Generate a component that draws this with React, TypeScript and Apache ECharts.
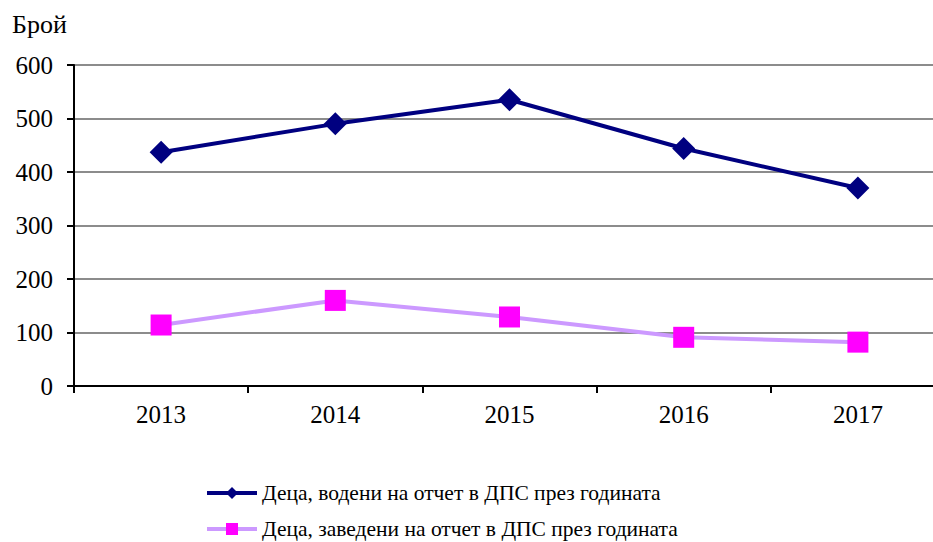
import React, { useEffect, useRef } from "react";
import * as echarts from "echarts";

const categories = ["2013", "2014", "2015", "2016", "2017"];
const seriesNames = [
  "Деца, водени на отчет в ДПС през годината",
  "Деца, заведени на отчет в ДПС през годината",
];
const ledValues = [437, 490, 535, 444, 370];
const enteredValues = [114, 160, 129, 91, 82];
const yTicks = { min: 0, max: 600, interval: 100 };
const yTitle = "Брой";

const FONT = '"Liberation Serif", "Times New Roman", serif';

const legendBase = {
  orient: "horizontal",
  itemWidth: 50,
  itemHeight: 15,
  itemGap: 8,
  lineStyle: { width: 4 },
  textStyle: { color: "#000", fontSize: 21.5, fontFamily: FONT },
};

export default function App() {
  const ref = useRef<HTMLDivElement>(null);
  useEffect(() => {
    if (!ref.current) return;
    const chart = echarts.init(ref.current, null, { renderer: "svg" });
    chart.setOption({
      animation: false,
      backgroundColor: "#ffffff",
      textStyle: { fontFamily: FONT },
      grid: {
        left: 74,
        top: 65,
        width: 871,
        height: 321,
        containLabel: false,
        outerBoundsMode: "none",
      },
      graphic: [
        {
          type: "text",
          left: 12,
          top: 11,
          style: { text: yTitle, font: `26px ${FONT}`, fill: "#000" },
        },
      ],
      xAxis: {
        type: "category",
        data: categories,
        boundaryGap: true,
        axisLine: { lineStyle: { color: "#000", width: 2 } },
        axisTick: { show: true, length: 7, lineStyle: { color: "#000", width: 2 } },
        axisLabel: { color: "#000", fontSize: 25, fontFamily: FONT, margin: 16 },
      },
      yAxis: {
        type: "value",
        min: yTicks.min,
        max: yTicks.max,
        interval: yTicks.interval,
        axisLine: { show: true, lineStyle: { color: "#000", width: 2 } },
        axisTick: { show: true, length: 7, lineStyle: { color: "#000", width: 2 } },
        axisLabel: { color: "#000", fontSize: 25, fontFamily: FONT, margin: 21 },
        splitLine: { show: true, lineStyle: { color: "#8c8c8c", width: 2 } },
      },
      legend: [
        { ...legendBase, left: 200, top: 477, data: [seriesNames[0]] },
        { ...legendBase, left: 200, top: 513, itemGap: 4, data: [seriesNames[1]] },
      ],
      series: [
        {
          name: seriesNames[0],
          type: "line",
          data: ledValues,
          symbol: "diamond",
          symbolSize: 23,
          lineStyle: { color: "#000080", width: 4 },
          itemStyle: { color: "#000080" },
        },
        {
          name: seriesNames[1],
          type: "line",
          data: enteredValues,
          symbol: "rect",
          symbolSize: 21,
          lineStyle: { color: "#CC99FF", width: 4 },
          itemStyle: { color: "#FF00FF" },
        },
      ],
    });
    return () => chart.dispose();
  }, []);
  return (
    <div
      ref={ref}
      style={{ position: "absolute", left: 0, top: 0, width: 933, height: 542 }}
    />
  );
}
